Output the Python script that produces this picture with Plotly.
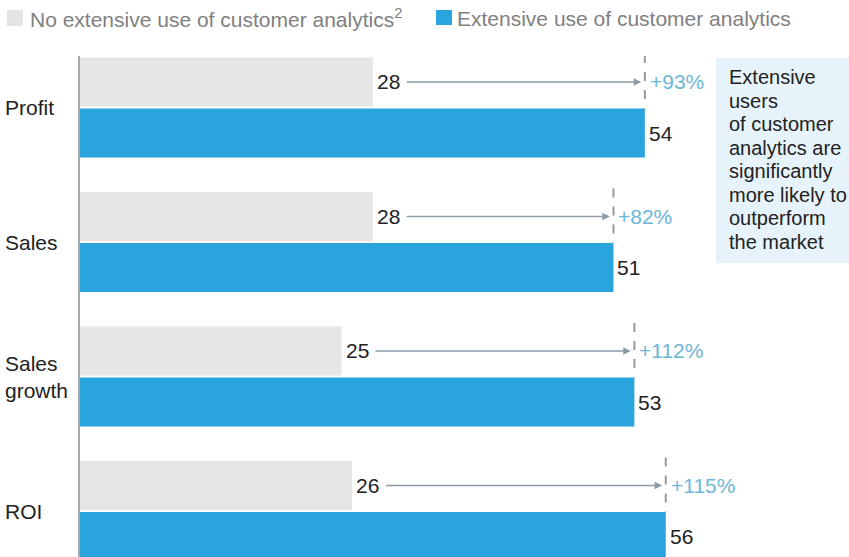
import numpy as np
import plotly.graph_objects as go

categories = ["Profit", "Sales", "Sales<br>growth", "ROI"]
no_extensive = [28, 28, 25, 26]
extensive = [54, 51, 53, 56]
uplift = ["+93%", "+82%", "+112%", "+115%"]

legend_names = ["No extensive use of customer analytics<sup>2</sup>",
                "Extensive use of customer analytics"]
box_lines = ["Extensive", "users", "of customer", "analytics are", "significantly",
             "more likely to", "outperform", "the market"]

GRAY = "#e6e6e6"
BLUE = "#29a4dc"
FONT = "Liberation Sans, Arial, sans-serif"

# page geometry helpers (pixel -> paper)
L, T, W, H = 80, 56, 769, 501


def px_x(p):
    return (p - L) / W


def px_y(p):
    return (T + H - p) / H


idx = np.arange(len(categories))
off = 0.19
bw = 0.364
y_gray = idx - off
y_blue = idx + off

fig = go.Figure()
fig.add_trace(go.Bar(x=no_extensive, y=y_gray, orientation="h", width=bw,
                     marker=dict(color=GRAY, line=dict(width=0)),
                     name=legend_names[0], showlegend=False, hoverinfo="x"))
fig.add_trace(go.Bar(x=extensive, y=y_blue, orientation="h", width=bw,
                     marker=dict(color=BLUE, line=dict(width=0)),
                     name=legend_names[1], showlegend=False, hoverinfo="x"))

shapes = []
annotations = []

# legend (manual)
shapes.append(dict(type="rect", xref="paper", yref="paper",
                   x0=px_x(7), x1=px_x(23), y0=px_y(26), y1=px_y(10),
                   fillcolor="#e3e3e3", line=dict(width=0)))
annotations.append(dict(xref="paper", yref="paper", x=px_x(28), y=px_y(18),
                        xanchor="left", yanchor="middle", showarrow=False,
                        text=legend_names[0],
                        font=dict(family=FONT, size=21, color="#808080")))
shapes.append(dict(type="rect", xref="paper", yref="paper",
                   x0=px_x(436), x1=px_x(452), y0=px_y(25), y1=px_y(10),
                   fillcolor=BLUE, line=dict(width=0)))
annotations.append(dict(xref="paper", yref="paper", x=px_x(455), y=px_y(18),
                        xanchor="left", yanchor="middle", showarrow=False,
                        text=legend_names[1],
                        font=dict(family=FONT, size=21, color="#808080")))

for i, cat in enumerate(categories):
    g, b = no_extensive[i], extensive[i]
    # category label
    annotations.append(dict(xref="paper", yref="y", x=px_x(3), y=idx[i],
                            xanchor="left", yanchor="middle", align="left",
                            showarrow=False, text=cat,
                            font=dict(family=FONT, size=21, color="#222222")))
    # gray value
    annotations.append(dict(xref="x", yref="y", x=g, y=y_gray[i],
                            xanchor="left", yanchor="middle", xshift=2,
                            showarrow=False, text=str(g),
                            font=dict(family=FONT, size=21, color="#222222")))
    # arrow
    annotations.append(dict(xref="x", yref="y", x=b - 0.35, y=y_gray[i],
                            axref="x", ayref="y", ax=g + 3.1, ay=y_gray[i],
                            text="", showarrow=True, arrowhead=2, arrowsize=1,
                            arrowwidth=1.5, arrowcolor="#8c9ca6", standoff=0))
    # dashed marker line
    shapes.append(dict(type="line", xref="x", yref="y", x0=b, x1=b,
                       y0=y_gray[i] - bw / 2 - 0.025, y1=y_blue[i] - bw / 2,
                       line=dict(color="#9a9a9a", width=2, dash="dash")))
    # uplift label
    annotations.append(dict(xref="x", yref="y", x=b, y=y_gray[i],
                            xanchor="left", yanchor="middle", xshift=3,
                            showarrow=False, text=uplift[i],
                            font=dict(family=FONT, size=21, color="#6cb6d6")))
    # blue value
    annotations.append(dict(xref="x", yref="y", x=b, y=y_blue[i],
                            xanchor="left", yanchor="middle", xshift=2,
                            showarrow=False, text=str(b),
                            font=dict(family=FONT, size=21, color="#222222")))

# callout box
shapes.append(dict(type="rect", xref="paper", yref="paper",
                   x0=px_x(716), x1=px_x(849), y0=px_y(263), y1=px_y(58),
                   fillcolor="#e6f3fa", line=dict(width=0), layer="below"))
for k, line in enumerate(box_lines):
    annotations.append(dict(xref="paper", yref="paper", x=px_x(727),
                            y=px_y(77 + 23.5 * k),
                            xanchor="left", yanchor="middle", align="left",
                            showarrow=False, text=line,
                            font=dict(family=FONT, size=20, color="#222222")))

fig.update_layout(
    width=849, height=557,
    margin=dict(l=L, r=0, t=T, b=0),
    paper_bgcolor="white", plot_bgcolor="white",
    barmode="overlay",
    showlegend=False,
    xaxis=dict(range=[0, W / 10.46], visible=False, fixedrange=True),
    yaxis=dict(range=[(557 - 107.5) / 134.5, (56 - 107.5) / 134.5],
               showline=True, linecolor="#a8a8a8", linewidth=2,
               showticklabels=False, showgrid=False, zeroline=False,
               ticks="", fixedrange=True),
    shapes=shapes,
    annotations=annotations,
)

fig.write_html("out.html")
